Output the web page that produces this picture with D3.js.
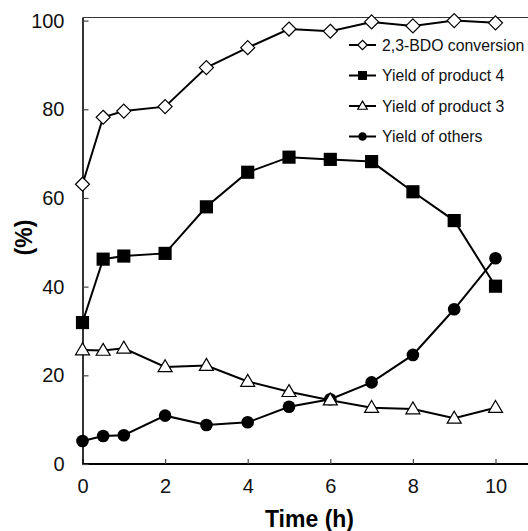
<!DOCTYPE html>
<html>
<head>
<meta charset="utf-8">
<script src="https://cdn.jsdelivr.net/npm/d3@7.9.0/dist/d3.min.js"></script>
<style>
  html, body { margin: 0; padding: 0; background: #fff; }
  svg { display: block; font-family: "Liberation Sans", Arial, sans-serif; }
</style>
</head>
<body>
<svg id="chart" width="528" height="531"></svg>
<script>
// ----- data -----
const times = [0, 0.5, 1, 2, 3, 4, 5, 6, 7, 8, 9, 10];
const bdoConversion = [63.1, 78.2, 79.6, 80.6, 89.4, 93.9, 98.1, 97.6, 99.7, 98.8, 100.0, 99.5];
const yieldProduct4 = [31.9, 46.2, 46.9, 47.5, 58.0, 65.8, 69.2, 68.7, 68.2, 61.4, 54.9, 40.1];
const yieldProduct3 = [25.7, 25.6, 26.1, 21.9, 22.2, 18.6, 16.3, 14.4, 12.7, 12.4, 10.3, 12.7];
const yieldOthers = [5.2, 6.3, 6.5, 10.9, 8.8, 9.4, 12.9, 14.6, 18.4, 24.6, 34.9, 46.4];
const xTicks = [0, 2, 4, 6, 8, 10];
const yTicks = [0, 20, 40, 60, 80, 100];

const series = [
  { name: "2,3-BDO conversion", values: bdoConversion, shape: "diamond" },
  { name: "Yield of product 4", values: yieldProduct4, shape: "square" },
  { name: "Yield of product 3", values: yieldProduct3, shape: "triangle" },
  { name: "Yield of others", values: yieldOthers, shape: "circle" }
];

const svg = d3.select("#chart");
const plotLeft = 82.5, plotBottom = 464, plotTop = 17.5;

const x = d3.scaleLinear().domain([0, 11]).range([plotLeft, plotLeft + 41.3 * 11]);
const y = d3.scaleLinear().domain([0, 100.7]).range([plotBottom, plotTop]);

// ----- frame: top line, axes -----
svg.append("line")
  .attr("x1", plotLeft).attr("x2", 528)
  .attr("y1", y(100.7)).attr("y2", y(100.7))
  .attr("stroke", "#333").attr("stroke-width", 1);

const xAxis = svg.append("g")
  .attr("transform", `translate(0,${plotBottom})`)
  .call(d3.axisBottom(x).tickValues(xTicks).tickSizeInner(-5).tickSizeOuter(0).tickPadding(15));
xAxis.select(".domain").attr("stroke-width", 2).attr("d", `M${plotLeft},0H528`);

const yAxis = svg.append("g")
  .attr("transform", `translate(${plotLeft},0)`)
  .call(d3.axisLeft(y).tickValues(yTicks).tickSizeInner(-6).tickSizeOuter(0).tickPadding(18));
yAxis.select(".domain").attr("stroke-width", 1.6);

svg.selectAll(".tick text")
  .attr("font-size", 20)
  .attr("font-family", "Liberation Sans, Arial, sans-serif")
  .attr("fill", "#111");
svg.selectAll(".tick line").attr("stroke", "#444").attr("stroke-width", 1.2);

// axis titles
svg.append("text")
  .attr("x", 309.5).attr("y", 526.5)
  .attr("text-anchor", "middle")
  .attr("font-size", 23).attr("font-weight", "bold")
  .text("Time (h)");

svg.append("text")
  .attr("transform", "translate(31.5,237.5) rotate(-90)")
  .attr("text-anchor", "middle")
  .attr("font-size", 23).attr("font-weight", "bold")
  .text("(%)");

// ----- markers -----
function drawMarker(g, shape, cx, cy, s) {
  if (shape === "diamond") {
    const r = s * 0.5;
    g.append("path")
      .attr("d", `M${cx},${cy - r}L${cx + r},${cy}L${cx},${cy + r}L${cx - r},${cy}Z`)
      .attr("fill", "#fff").attr("stroke", "#000").attr("stroke-width", 1.2);
  } else if (shape === "square") {
    const h = s * 0.47;
    g.append("rect")
      .attr("x", cx - h).attr("y", cy - h).attr("width", 2 * h).attr("height", 2 * h)
      .attr("fill", "#000");
  } else if (shape === "triangle") {
    const w = s * 0.5, hgt = s * 0.85;
    g.append("path")
      .attr("d", `M${cx},${cy - hgt * 0.6}L${cx + w},${cy + hgt * 0.4}L${cx - w},${cy + hgt * 0.4}Z`)
      .attr("fill", "#fff").attr("stroke", "#000").attr("stroke-width", 1.2);
  } else {
    g.append("circle")
      .attr("cx", cx).attr("cy", cy).attr("r", s * 0.45)
      .attr("fill", "#000");
  }
}

const line = d3.line().x(d => x(d[0])).y(d => y(d[1]));

// draw series in back-to-front order
const order = [3, 2, 1, 0];
order.forEach(i => {
  const s = series[i];
  const pts = times.map((t, j) => [t, s.values[j]]);
  const g = svg.append("g");
  g.append("path")
    .attr("d", line(pts))
    .attr("fill", "none").attr("stroke", "#000").attr("stroke-width", 2);
  pts.forEach(p => drawMarker(g, s.shape, x(p[0]), y(p[1]), 14));
});

// ----- legend -----
const legend = svg.append("g");
series.forEach((s, i) => {
  const ly = 45 + i * 30.5;
  const row = legend.append("g");
  row.append("line")
    .attr("x1", 349).attr("x2", 376)
    .attr("y1", ly).attr("y2", ly)
    .attr("stroke", "#000").attr("stroke-width", 2);
  drawMarker(row, s.shape, 362.5, ly, 9.5);
  row.append("text")
    .attr("x", 382).attr("y", ly)
    .attr("dy", "0.35em")
    .attr("font-size", 15.8)
    .attr("fill", "#111")
    .text(s.name);
});
</script>
</body>
</html>
